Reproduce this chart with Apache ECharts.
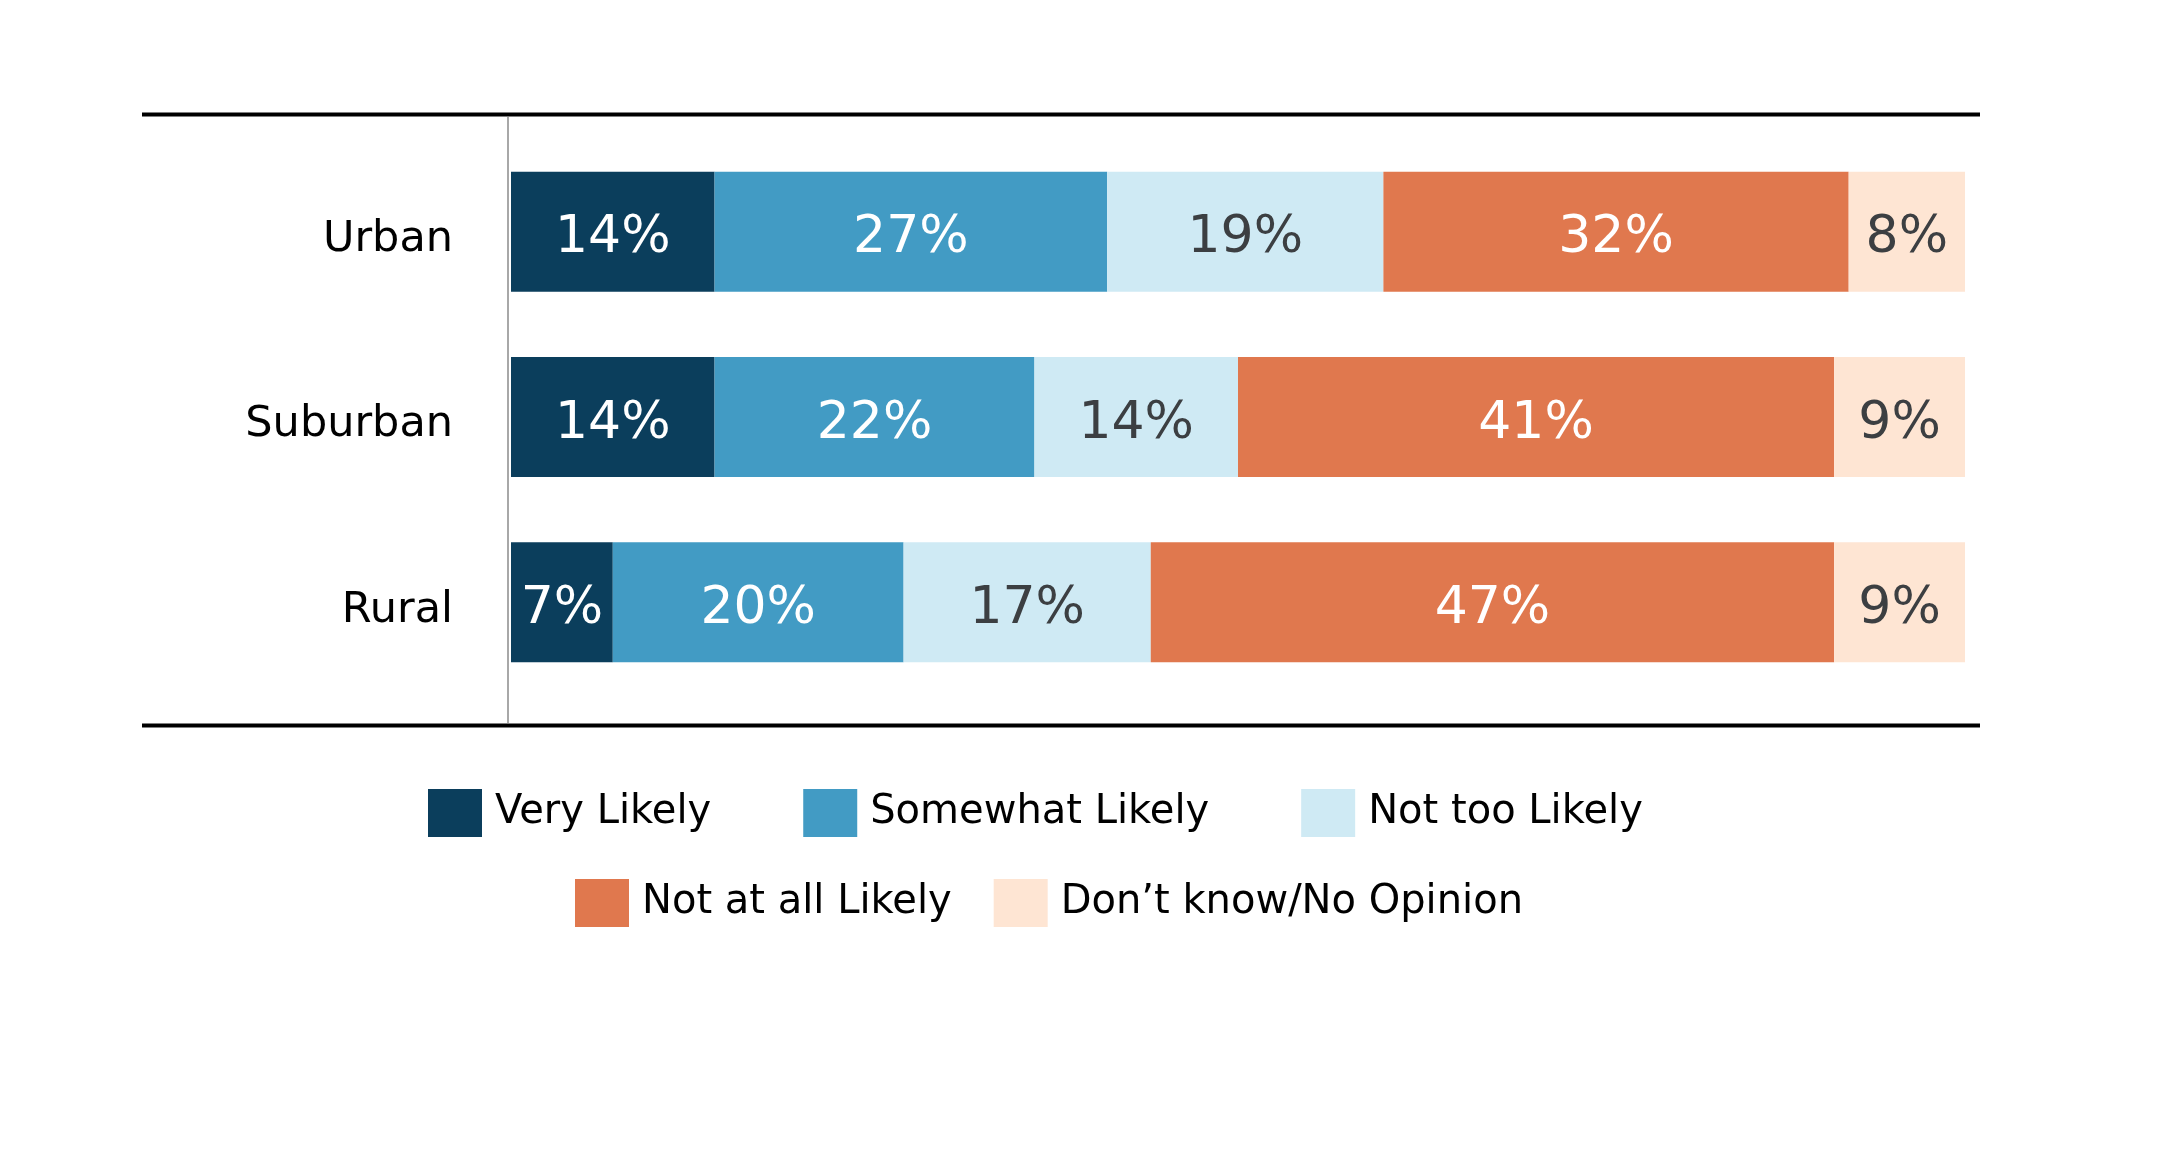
<!DOCTYPE html>
<html>
<head>
<meta charset="utf-8">
<script src="https://cdn.jsdelivr.net/npm/echarts@6/dist/echarts.min.js"></script>
<style>
  html, body { margin: 0; padding: 0; background: #fff; }
  #chart { width: 2158px; height: 1174px; }
</style>
</head>
<body>
<div id="chart"></div>
<script>
// data
var categories = ['Urban', 'Suburban', 'Rural'];
var seriesNames = ['Very Likely', 'Somewhat Likely', 'Not too Likely', 'Not at all Likely', 'Don\u2019t know/No Opinion'];
var veryLikely = [14, 14, 7];
var somewhatLikely = [27, 22, 20];
var notTooLikely = [19, 14, 17];
var notAtAllLikely = [32, 41, 47];
var dontKnow = [8, 9, 9];

var colors = ['#0b3e5c', '#429bc4', '#cfeaf4', '#e0784e', '#fee5d3'];
var labelColors = ['#ffffff', '#ffffff', '#3c3f42', '#ffffff', '#3c3f42'];
var font = 'DejaVu Sans';

var values = [veryLikely, somewhatLikely, notTooLikely, notAtAllLikely, dontKnow];

var series = values.map(function(vals, i) {
  return {
    name: seriesNames[i],
    type: 'bar',
    stack: 'total',
    barWidth: 120,
    data: vals,
    itemStyle: { color: colors[i] },
    label: {
      show: true,
      position: 'inside',
      offset: [0, 7],
      formatter: '{c}%',
      color: labelColors[i],
      fontFamily: font,
      fontSize: 52
    },
    emphasis: { disabled: true }
  };
});

var legendText = { fontFamily: font, fontSize: 40, color: '#000', padding: [0, 0, 0, 8] };

var chart = echarts.init(document.getElementById('chart'));
chart.setOption({
  animation: false,
  grid: { left: 511, right: 193, top: 139, bottom: 479 },
  xAxis: {
    type: 'value',
    min: 0,
    max: 100,
    show: false
  },
  yAxis: {
    type: 'category',
    inverse: true,
    data: categories,
    axisLine: { show: false },
    axisTick: { show: false },
    axisLabel: {
      margin: 58,
      formatter: '{c|{value}}',
      rich: {
        c: {
          color: '#000',
          fontFamily: font,
          fontSize: 43,
          padding: [16, 0, 0, 0]
        }
      }
    }
  },
  legend: [{
    data: seriesNames.slice(0, 3),
    left: 428,
    top: 789,
    padding: 0,
    itemWidth: 54,
    itemHeight: 48,
    itemGap: 92,
    icon: 'rect',
    textStyle: legendText
  }, {
    data: seriesNames.slice(3),
    left: 575,
    top: 879,
    padding: 0,
    itemWidth: 54,
    itemHeight: 48,
    itemGap: 42,
    icon: 'rect',
    textStyle: legendText
  }],
  graphic: [
    { type: 'line', shape: { x1: 142, y1: 114.5, x2: 1980, y2: 114.5 }, style: { stroke: '#000', lineWidth: 4 } },
    { type: 'line', shape: { x1: 142, y1: 725.5, x2: 1980, y2: 725.5 }, style: { stroke: '#000', lineWidth: 4 } },
    { type: 'line', shape: { x1: 508, y1: 117, x2: 508, y2: 723 }, style: { stroke: '#a8a8a8', lineWidth: 2 } }
  ],
  series: series
});
</script>
</body>
</html>
